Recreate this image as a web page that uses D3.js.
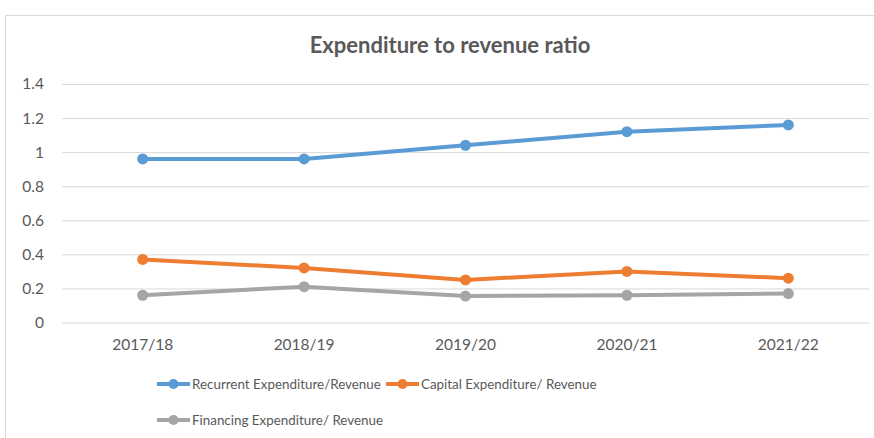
<!DOCTYPE html>
<html>
<head>
 <meta charset="utf-8">
 <script src="https://d3js.org/d3.v7.min.js"></script>
 <style>
  body { margin: 0; background: #fff; }
  text { font-family: Lato, "Open Sans", sans-serif; fill: #595959; }
 </style>
</head>
<body>
 <div id="chart"></div>
 <script>
   // データ
   var years = ["2017/18", "2018/19", "2019/20", "2020/21", "2021/22"];
   var recurrent = [0.96, 0.96, 1.04, 1.12, 1.16];
   var capital = [0.37, 0.32, 0.25, 0.30, 0.26];
   var financing = [0.16, 0.21, 0.155, 0.16, 0.17];
   var yTicks = [0, 0.2, 0.4, 0.6, 0.8, 1, 1.2, 1.4];
   var seriesNames = ["Recurrent Expenditure/Revenue", "Capital Expenditure/ Revenue", "Financing Expenditure/ Revenue"];
   var colors = ["#5B9BD5", "#ED7D31", "#A5A5A5"];

   var series = [recurrent, capital, financing].map(function(v, i) {
     return { name: seriesNames[i], values: v, color: colors[i] };
   });

   var width = 874, height = 438;
   var svg = d3.select("#chart").append("svg")
               .attr("width", width).attr("height", height);

   // 枠
   svg.append("rect")
      .attr("x", 5.5).attr("y", 15.5)
      .attr("width", 880).attr("height", 440)
      .style("fill", "none").style("stroke", "#d9d9d9");

   svg.append("text")
      .attr("x", 450).attr("y", 53)
      .attr("text-anchor", "middle")
      .style("font-size", "22px").style("font-weight", "bold")
      .text("Expenditure to revenue ratio");

   var xScale = d3.scaleBand().domain(years).range([62, 869]);
   var yScale = d3.scaleLinear().domain([0, 1.4]).range([322.5, 84]);

   // グリッド線
   var yAxis = d3.axisLeft(yScale).tickValues(yTicks)
                 .tickSize(-(869 - 62)).tickPadding(18)
                 .tickFormat(function(d) { return String(d); });
   var gy = svg.append("g").attr("transform", "translate(62,0)").call(yAxis);
   gy.select(".domain").remove();
   gy.selectAll(".tick line").style("stroke", "#d9d9d9").style("stroke-width", 1);
   gy.selectAll(".tick text").style("font-size", "15.5px").style("fill", "#595959")
     .style("font-family", "Lato, sans-serif");

   var xAxis = d3.axisBottom(xScale).tickSize(0).tickPadding(16);
   var gx = svg.append("g").attr("transform", "translate(0," + yScale(0) + ")").call(xAxis);
   gx.select(".domain").remove();
   gx.selectAll(".tick text").style("font-size", "15.5px").style("fill", "#595959")
     .style("font-family", "Lato, sans-serif");

   var line = d3.line()
                .x(function(d, i) { return xScale(years[i]) + xScale.bandwidth() / 2; })
                .y(function(d) { return yScale(d); });

   var g = svg.append("g");
   series.forEach(function(s) {
     g.append("path")
      .datum(s.values)
      .attr("d", line)
      .style("fill", "none")
      .style("stroke", s.color)
      .style("stroke-width", 4)
      .style("stroke-linejoin", "round");
     g.selectAll(null)
      .data(s.values)
      .enter().append("circle")
      .attr("cx", function(d, i) { return xScale(years[i]) + xScale.bandwidth() / 2; })
      .attr("cy", function(d) { return yScale(d); })
      .attr("r", 5.5)
      .style("fill", s.color);
   });

   // 凡例
   var legendPos = [[157, 384], [386, 384], [157, 420]];
   series.forEach(function(s, i) {
     var lg = svg.append("g").attr("transform", "translate(" + legendPos[i][0] + "," + legendPos[i][1] + ")");
     lg.append("line").attr("x1", 0).attr("x2", 33).attr("y1", 0).attr("y2", 0)
       .style("stroke", s.color).style("stroke-width", 4);
     lg.append("circle").attr("cx", 16.5).attr("cy", 0).attr("r", 5).style("fill", s.color);
     lg.append("text").attr("x", 35).attr("y", 5)
       .style("font-size", "13.4px")
       .text(s.name);
   });
 </script>
</body>
</html>
